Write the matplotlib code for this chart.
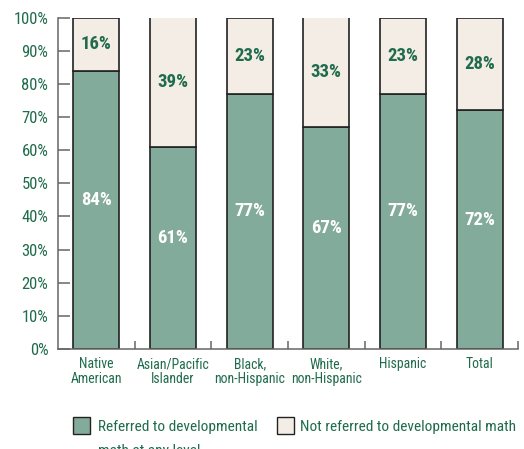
import matplotlib
matplotlib.use("Agg")
import matplotlib.pyplot as plt
from matplotlib.patches import Rectangle
import numpy as np

categories = ["Native\nAmerican", "Asian/Pacific\nIslander", "Black,\nnon-Hispanic",
              "White,\nnon-Hispanic", "Hispanic", "Total"]
referred = [84, 61, 77, 67, 77, 72]
not_referred = [16, 39, 23, 33, 23, 28]
yticks = [0, 10, 20, 30, 40, 50, 60, 70, 80, 90, 100]
legend_labels = [["Referred to developmental", "math at any level"],
                 ["Not referred to developmental math"]]

green = "#82ab9b"
cream = "#f3ede6"
textgreen = "#1f6b4c"
edge = "#222222"
axcol = "#666666"

plt.rcParams['font.family'] = ['Roboto Condensed', 'DejaVu Sans']

W, H = 524, 449
fig = plt.figure(figsize=(W / 100, H / 100), dpi=100)
ax = fig.add_axes([58 / W, 1 - 349 / H, 460 / W, 331.5 / H])

x = np.arange(len(categories))
ax.bar(x, referred, width=0.6, color=green, edgecolor=edge, linewidth=1.2)
ax.bar(x, not_referred, bottom=referred, width=0.6, color=cream, edgecolor=edge, linewidth=1.2)

for xi, r, n in zip(x, referred, not_referred):
    ax.text(xi, r / 2 + 3.0, f"{r}%", ha="center", va="center", color="white",
            fontsize=13.5, fontweight="bold")
    ax.text(xi, r + n / 2, f"{n}%", ha="center", va="center", color=textgreen,
            fontsize=13.5, fontweight="bold")

ax.set_xlim(-0.5, len(categories) - 0.5)
ax.set_ylim(0, 100)
ax.set_yticks(yticks)
ax.set_yticklabels([f"{v}%" for v in yticks], color=textgreen, fontsize=12)
ax.tick_params(axis="y", direction="in", length=8.6, width=1.1, color=axcol, pad=7)

ax.set_xticks(x)
ax.set_xticklabels(categories, color=textgreen, fontsize=9.9, linespacing=1.1)
ax.tick_params(axis="x", which="major", length=0, pad=6)
ax.set_xticks(np.arange(len(categories)) + 0.5, minor=True)
ax.tick_params(axis="x", which="minor", direction="in", length=6, width=1.1, color=axcol)

for s in ["top", "right"]:
    ax.spines[s].set_visible(False)
for s in ["left", "bottom"]:
    ax.spines[s].set_color(axcol)
    ax.spines[s].set_linewidth(1.1)

# legend (manual placement)
for (px, tx), color, lines in zip([(73, 98), (277, 300)], [green, cream], legend_labels):
    fig.patches.append(Rectangle((px / W, 1 - 434 / H), 17 / W, 17 / H, transform=fig.transFigure,
                                 facecolor=color, edgecolor=edge, linewidth=1.0))
    for i, line in enumerate(lines):
        fig.text(tx / W, 1 - (431 + 24 * i) / H, line, ha="left", va="baseline",
                 color=textgreen, fontsize=11.1)

fig.savefig("out.png", dpi=100)
